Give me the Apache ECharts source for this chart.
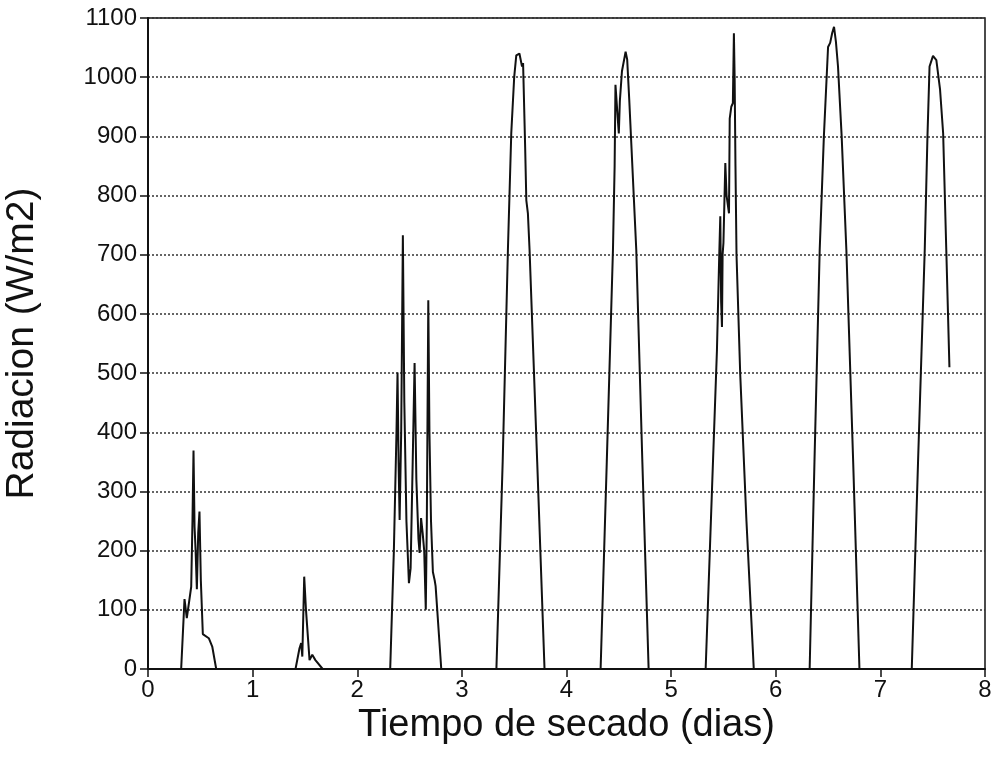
<!DOCTYPE html>
<html>
<head>
<meta charset="utf-8">
<script src="https://cdn.jsdelivr.net/npm/echarts@6/dist/echarts.min.js"></script>
<style>
html,body{margin:0;padding:0;background:#fff;}
#chart{width:1006px;height:761px;}
</style>
</head>
<body>
<div id="chart"></div>
<script>
// Tiempo de secado (dias), Radiacion (W/m2) — one array per daily burst
const day0 = [[0,0],[0.317,0],[0.349,118],[0.371,86],[0.413,139],[0.425,250],[0.435,369],[0.445,240],[0.455,200],[0.467,135],[0.48,230],[0.492,266],[0.505,150],[0.524,59],[0.581,52],[0.614,38],[0.652,0]];
const day1 = [[1.41,0],[1.448,35],[1.464,44],[1.475,21],[1.493,156],[1.51,100],[1.544,15],[1.57,24],[1.60,15],[1.67,0]];
const day2 = [[2.315,0],[2.35,200],[2.375,400],[2.385,501],[2.395,350],[2.405,252],[2.42,400],[2.436,733],[2.45,450],[2.47,250],[2.494,145],[2.51,170],[2.53,350],[2.548,517],[2.565,320],[2.585,220],[2.596,196],[2.61,255],[2.625,230],[2.64,200],[2.655,100],[2.665,250],[2.679,623],[2.69,400],[2.705,250],[2.723,164],[2.74,150],[2.749,140],[2.803,0]];
const day3 = [[3.33,0],[3.39,350],[3.44,708],[3.472,905],[3.50,1000],[3.52,1037],[3.55,1040],[3.575,1018],[3.585,1024],[3.605,880],[3.616,792],[3.631,770],[3.647,708],[3.72,350],[3.79,0]];
const day4 = [[4.326,0],[4.385,350],[4.444,708],[4.46,850],[4.468,987],[4.49,930],[4.50,905],[4.51,960],[4.53,1010],[4.565,1043],[4.58,1030],[4.60,961],[4.667,708],[4.725,350],[4.785,0]];
const day5 = [[5.33,0],[5.39,300],[5.438,539],[5.46,700],[5.47,765],[5.478,620],[5.486,578],[5.492,700],[5.50,720],[5.518,855],[5.53,800],[5.553,770],[5.56,930],[5.575,950],[5.59,956],[5.60,1074],[5.607,1000],[5.615,850],[5.625,700],[5.66,500],[5.72,250],[5.79,0]];
const day6 = [[6.324,0],[6.37,350],[6.42,708],[6.46,900],[6.50,1051],[6.52,1058],[6.54,1075],[6.557,1085],[6.575,1060],[6.595,1018],[6.63,900],[6.675,708],[6.74,350],[6.80,0]];
const day7 = [[7.30,0],[7.36,350],[7.424,708],[7.45,900],[7.47,1018],[7.503,1036],[7.535,1029],[7.57,980],[7.60,905],[7.63,708],[7.66,510]];

const xTicks = [0,1,2,3,4,5,6,7,8];
const yTicks = [0,100,200,300,400,500,600,700,800,900,1000,1100];

const data = [].concat(day0, day1, day2, day3, day4, day5, day6, day7);

const chart = echarts.init(document.getElementById('chart'), null, {renderer:'canvas'});
const font = '"Liberation Sans", Arial, sans-serif';
chart.setOption({
  backgroundColor:'#ffffff',
  animation:false,
  grid:{left:148, right:21, top:18, bottom:92, containLabel:false, outerBoundsMode:'none', show:true, borderColor:'#111', borderWidth:1.5, backgroundColor:'transparent'},
  xAxis:{
    type:'value', min:xTicks[0], max:xTicks[xTicks.length-1], interval:1,
    name:'Tiempo de secado (dias)', nameLocation:'middle', nameGap:37,
    nameTextStyle:{fontFamily:font, fontSize:38, color:'#111'},
    axisLine:{show:true, onZero:false, lineStyle:{color:'#111', width:2}},
    axisTick:{show:true, inside:false, length:8, lineStyle:{color:'#111', width:1.5}},
    axisLabel:{fontFamily:font, fontSize:24, color:'#111', margin:9, formatter:function(v){return String(v);}},
    splitLine:{show:false}
  },
  yAxis:{
    type:'value', min:yTicks[0], max:yTicks[yTicks.length-1], interval:100,
    name:'Radiacion (W/m2)', nameLocation:'middle', nameGap:106,
    nameTextStyle:{fontFamily:font, fontSize:39, color:'#111'},
    axisLine:{show:true, onZero:false, lineStyle:{color:'#111', width:2}},
    axisTick:{show:true, inside:false, length:8, lineStyle:{color:'#111', width:1.5}},
    axisLabel:{fontFamily:font, fontSize:24, color:'#111', margin:11, formatter:function(v){return String(v);}},
    splitLine:{show:true, lineStyle:{color:'#333', width:1.5, type:[2,2]}}
  },
  series:[{
    type:'line', data:data, showSymbol:false, symbol:'none',
    lineStyle:{color:'#111', width:2}, z:5
  }]
});
</script>
</body>
</html>
